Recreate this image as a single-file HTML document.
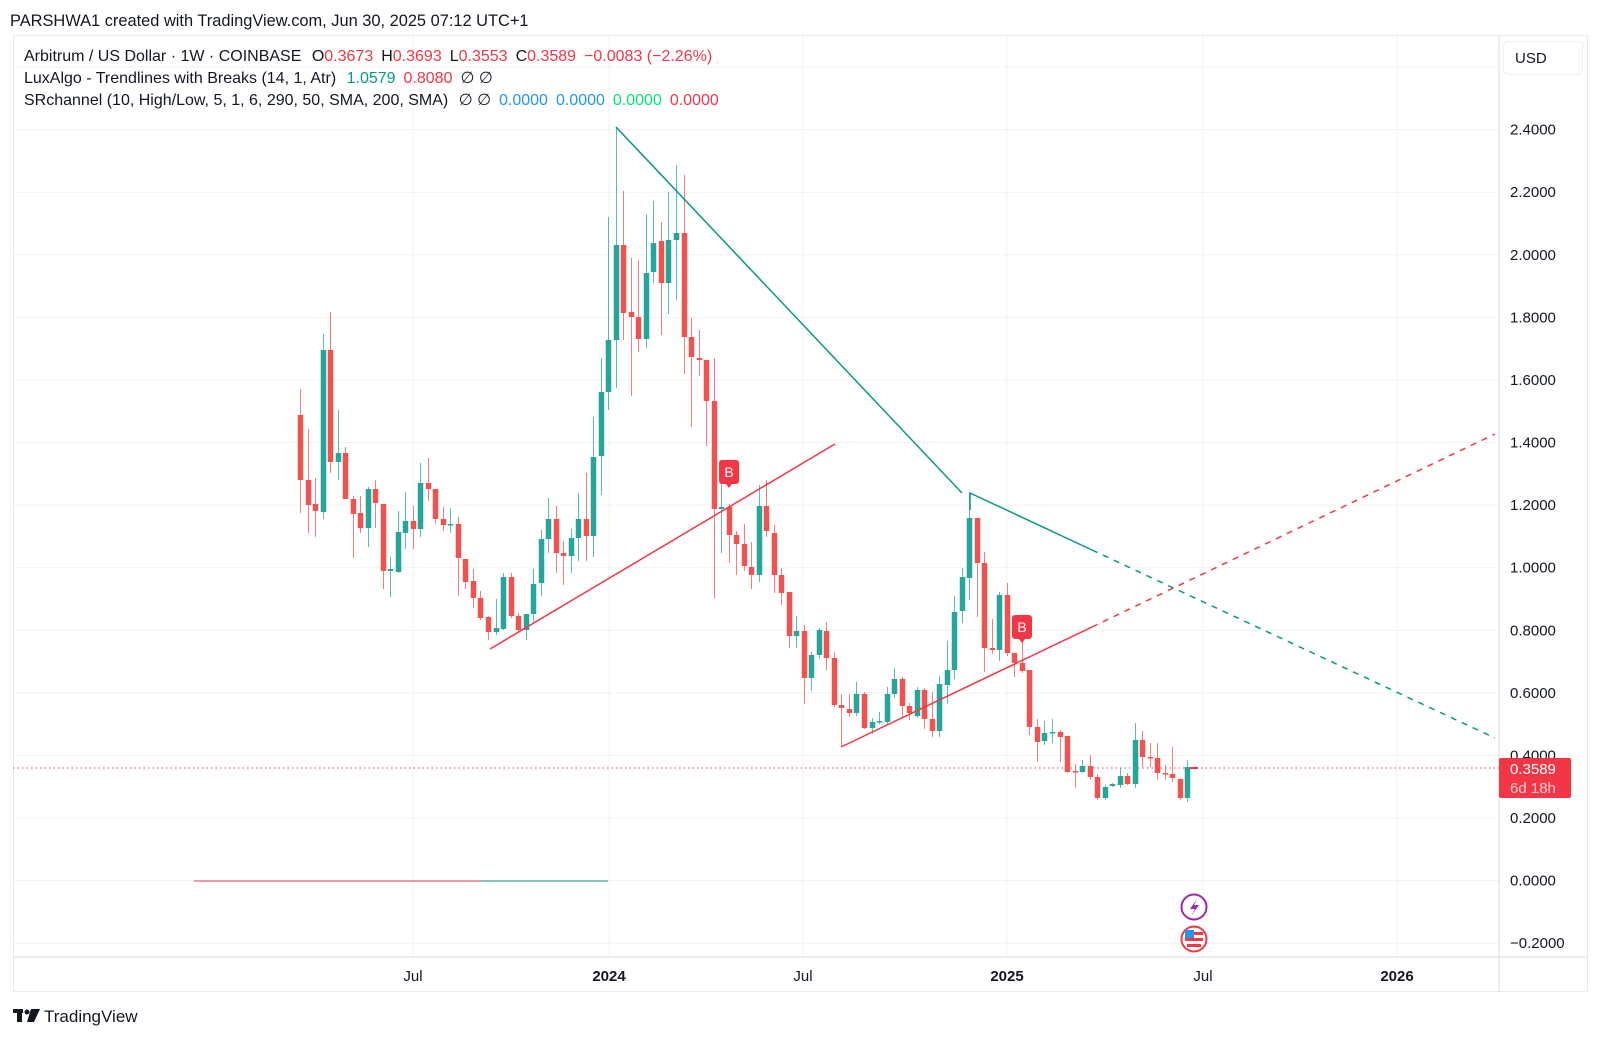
<!DOCTYPE html>
<html><head><meta charset="utf-8"><style>
html,body{margin:0;padding:0;background:#fff;width:1600px;height:1038px;overflow:hidden}
svg{display:block;font-family:"Liberation Sans",sans-serif}
</style></head><body>
<svg id="s" width="1600" height="1038" viewBox="0 0 1600 1038" xmlns="http://www.w3.org/2000/svg">
<rect width="1600" height="1038" fill="#fff"/>
<g id="grid" stroke="#f0f1f4" stroke-width="1"></g>
<rect x="13.5" y="35.5" width="1574" height="956" fill="none" stroke="#e9eaee"/>
<line x1="1499" y1="36" x2="1499" y2="992" stroke="#e4e5e9" stroke-width="1.5"/>
<line x1="13" y1="957" x2="1588" y2="957" stroke="#e4e5e9" stroke-width="1.5"/>
<text x="10" y="26" font-size="16.4" fill="#131722">PARSHWA1 created with TradingView.com, Jun 30, 2025 07:12 UTC+1</text>
<text x="24" y="61" font-size="16" fill="#131722">Arbitrum / US Dollar · 1W · COINBASE <tspan dx="6">O</tspan><tspan fill="#f23645">0.3673</tspan><tspan dx="8">H</tspan><tspan fill="#f23645">0.3693</tspan><tspan dx="8">L</tspan><tspan fill="#f23645">0.3553</tspan><tspan dx="8">C</tspan><tspan fill="#f23645">0.3589</tspan><tspan dx="8" fill="#f23645">−0.0083 (−2.26%)</tspan></text>
<text x="24" y="83" font-size="16" fill="#131722">LuxAlgo - Trendlines with Breaks (14, 1, Atr) <tspan dx="6" fill="#089981">1.0579</tspan><tspan dx="8" fill="#f23645">0.8080</tspan><tspan dx="8">∅ ∅</tspan></text>
<text x="24" y="105" font-size="16" fill="#131722">SRchannel (10, High/Low, 5, 1, 6, 290, 50, SMA, 200, SMA) <tspan dx="6">∅ ∅</tspan><tspan dx="8" fill="#2196f3">0.0000</tspan><tspan dx="8" fill="#2196f3">0.0000</tspan><tspan dx="8" fill="#00e676">0.0000</tspan><tspan dx="8" fill="#f23645">0.0000</tspan></text>
<rect x="1503.5" y="41.5" width="79" height="33" rx="5" fill="#fff" stroke="#eceef2"/>
<text x="1515" y="63" font-size="15" fill="#131722">USD</text>
<g id="ylab" font-size="15" fill="#131722"></g>
<g font-size="15" fill="#131722" text-anchor="middle">
<text x="413" y="981">Jul</text><text x="609" y="981" font-weight="bold">2024</text>
<text x="803" y="981">Jul</text><text x="1007" y="981" font-weight="bold">2025</text>
<text x="1203" y="981">Jul</text><text x="1397" y="981" font-weight="bold">2026</text>
</g>
<line x1="194" y1="881" x2="480" y2="881" stroke="#f23645" stroke-width="1"/>
<line x1="480" y1="881" x2="608" y2="881" stroke="#089981" stroke-width="1"/>
<line x1="13" y1="768" x2="1499" y2="768" stroke="#f23645" stroke-width="1" stroke-dasharray="1.5,3"/>
<g id="c"></g>
<line x1="616" y1="127" x2="962" y2="493" stroke="#089981" stroke-width="1.5"/>
<polyline points="970,510 970,493 1092,550" fill="none" stroke="#089981" stroke-width="1.5"/>
<line x1="1092" y1="550" x2="1495" y2="738" stroke="#089981" stroke-width="1.5" stroke-dasharray="6,6"/>
<line x1="490" y1="649" x2="835" y2="444" stroke="#f23645" stroke-width="1.5"/>
<line x1="841" y1="747" x2="1092" y2="627" stroke="#f23645" stroke-width="1.5"/>
<line x1="1092" y1="627" x2="1495" y2="434" stroke="#f23645" stroke-width="1.5" stroke-dasharray="6,6"/>
<g font-size="14" fill="#fff" text-anchor="middle">
<rect x="719" y="460" width="20" height="24" rx="3" fill="#f23645"/><path d="M726,484 L729,488 L732,484Z" fill="#f23645"/><text x="729" y="477">B</text>
<rect x="1012" y="615" width="20" height="24" rx="3" fill="#f23645"/><path d="M1019,639 L1022,643 L1025,639Z" fill="#f23645"/><text x="1022" y="632">B</text>
</g>
<line x1="1190" y1="768" x2="1198" y2="768" stroke="#f23645" stroke-width="2"/>
<rect x="1499" y="758" width="72" height="40" rx="2" fill="#f23645"/>
<text x="1510" y="774" font-size="15" fill="#fff">0.3589</text>
<text x="1510" y="793" font-size="15" fill="#ffd0d3">6d 18h</text>
<circle cx="1194" cy="907" r="12.5" fill="#fff" stroke="#9c27b0" stroke-width="2"/>
<path d="M1197,899 L1190,909 L1195,909 L1191,916 L1199,905 L1194,905Z" fill="#9c27b0"/>
<circle cx="1194" cy="939" r="12.5" fill="#fff" stroke="#f23645" stroke-width="2"/>
<rect x="1185" y="932" width="18" height="3" fill="#f23645"/><rect x="1185" y="938" width="18" height="3" fill="#f23645"/><rect x="1187" y="944" width="14" height="3" fill="#f23645"/>
<rect x="1185" y="930" width="9" height="8" fill="#2196f3"/>
<g fill="#131722"><rect x="13" y="1009" width="10" height="4"/><rect x="17" y="1009" width="5" height="13"/><circle cx="27" cy="1012" r="2.5"/><path d="M31,1009 L40,1009 L34,1022 L27,1022Z"/></g>
<text x="44" y="1022" font-size="17" fill="#131722">TradingView</text>
</svg>
<script>
var NS="http://www.w3.org/2000/svg";
function el(t,a,p){var e=document.createElementNS(NS,t);for(var k in a)e.setAttribute(k,a[k]);p.appendChild(e);return e;}
var g=document.getElementById('grid'),yl=document.getElementById('ylab');
for(var i=-1;i<=13;i++){var p=i*0.2,y=880.6-p*312.9;if(y<36)continue;
 el('line',{x1:13,y1:y,x2:1499,y2:y},g);
 if(i<=12){var t=el('text',{x:1510,y:y+5},yl);t.textContent=(p<0?'−':'')+Math.abs(p).toFixed(4);}}
[413,609,803,1007,1203,1397].forEach(function(x){el('line',{x1:x,y1:36,x2:x,y2:957},g);});
var D="r 415 480 389 513|r 480 505 429 533|r 504 511 478 537|g 350 512 334 519|r 350 462 312 473|g 453 462 410 480|r 453 499 447 499|r 499 514 496 558|r 513 528 496 533|g 489 528 487 547|r 489 503 480 528|r 504 571 504 589|g 569 571 557 597|g 532 572 511 573|g 521 533 492 549|r 521 529 506 549|g 483 529 463 537|r 483 489 458 501|r 489 519 489 524|r 519 525 507 531|g 524 525 508 533|r 524 558 517 596|r 559 582 559 589|r 581 598 569 608|r 598 618 591 620|r 617 632 616 640|g 628 632 599 635|g 577 629 573 630|r 577 616 573 618|r 616 630 613 633|g 614 630 614 640|g 584 614 569 622|g 539 583 530 596|g 519 539 498 553|r 519 553 506 573|r 553 556 541 585|g 538 556 529 573|g 519 538 493 561|r 519 536 473 561|g 457 536 417 557|g 392 456 358 495|g 340 392 217 410|g 245 340 127 388|r 245 313 191 340|r 312 317 258 396|r 317 339 260 352|g 273 339 214 348|g 243 272 201 283|r 241 283 222 335|g 240 283 192 314|g 233 240 165 300|r 233 337 175 374|r 337 357 318 427|r 358 360 330 376|r 360 401 360 446|r 401 509 358 598|g 507 509 481 553|r 507 535 504 563|r 535 544 531 575|r 544 566 524 571|r 567 575 542 589|g 506 575 485 582|r 506 531 480 537|r 533 575 525 593|r 575 593 568 605|r 592 636 592 648|g 631 636 616 648|r 631 678 625 704|g 655 678 652 691|g 630 655 628 659|r 631 658 622 670|r 658 705 652 707|r 705 708 694 747|r 709 713 694 717|g 694 713 682 716|r 694 728 692 729|g 722 728 718 734|g 721 722 712 724|g 694 722 687 725|g 679 694 668 698|r 679 706 677 718|r 706 713 703 720|g 690 716 687 718|r 690 719 688 729|r 719 731 692 737|g 684 731 676 737|g 670 685 641 704|g 612 670 596 679|g 577 611 568 623|g 518 578 493 600|r 518 563 518 617|r 563 648 552 672|r 648 650 619 654|g 595 650 592 661|r 595 653 583 656|r 653 663 653 677|r 663 671 640 673|r 670 727 670 735|r 727 742 719 762|g 733 741 721 745|g 732 733 719 743|r 732 737 730 762|r 736 772 736 773|r 771 772 764 788|g 766 772 760 773|r 766 777 755 780|r 777 798 774 800|g 787 798 785 800|g 784 786 783 787|g 776 785 768 788|r 776 784 773 785|g 740 784 723 788|r 740 757 731 767|r 757 758 743 767|r 758 773 743 780|r 773 774 765 780|r 774 778 747 782|r 779 798 778 800|g 767 798 760 802";
var c=document.getElementById('c');
D.split('|').forEach(function(s,i){var a=s.split(' '),col=a[0]=='g'?'#26a69a':'#ef5350';
 var t=+a[1],b=+a[2],h=+a[3],l=+a[4],x=Math.round(300+i*7.52)+0.5;
 el('line',{x1:x,y1:h,x2:x,y2:l,stroke:col,'stroke-width':1,'stroke-opacity':0.75},c);
 el('rect',{x:x-2.75,y:t,width:5.5,height:Math.max(1.5,b-t),fill:col},c);});
</script>
</body></html>
